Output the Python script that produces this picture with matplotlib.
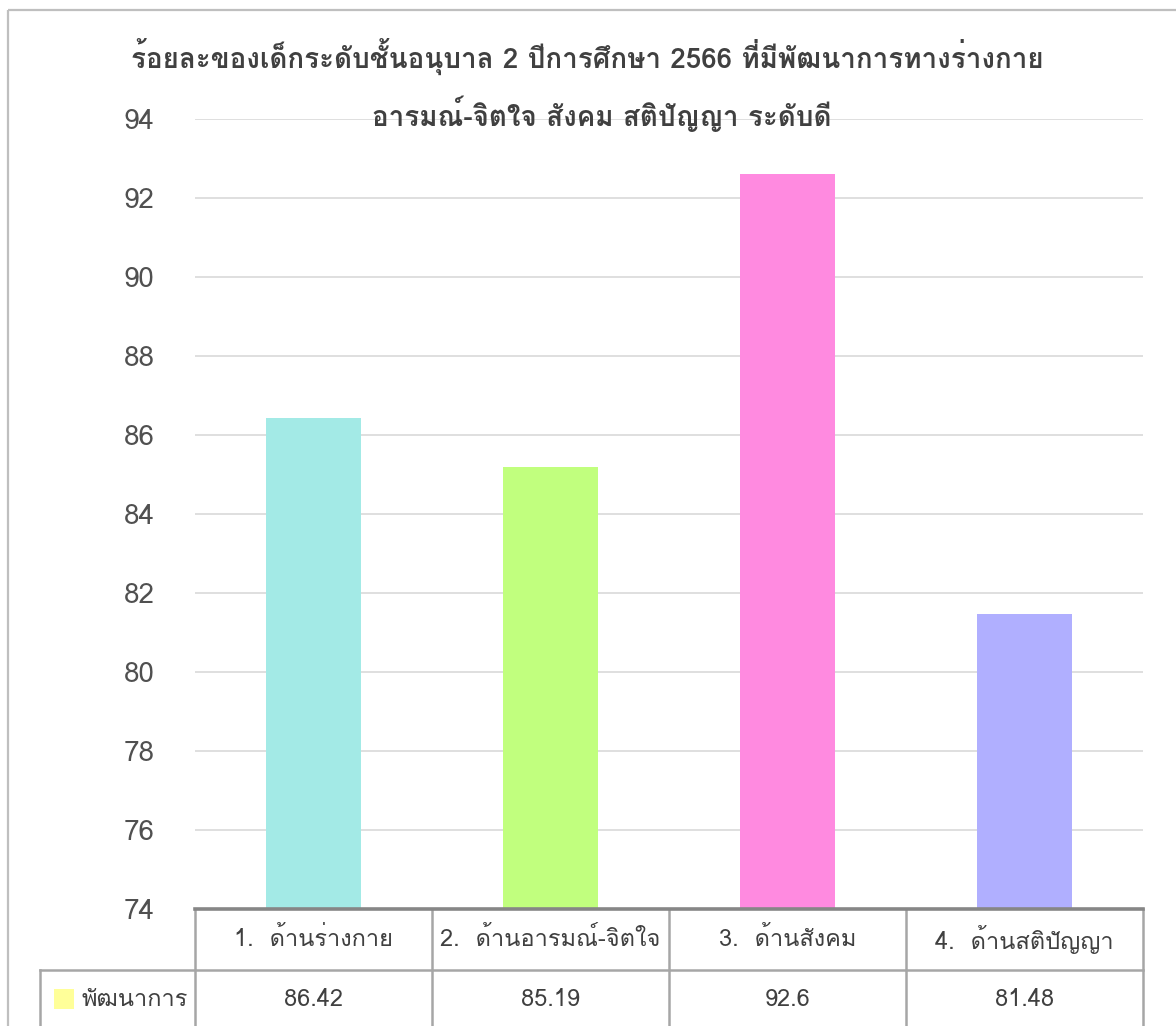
import matplotlib
matplotlib.use("Agg")
import matplotlib.pyplot as plt
from matplotlib import font_manager as fm
from matplotlib.ft2font import FT2Font
from matplotlib.lines import Line2D
from matplotlib.patches import Rectangle

# ---------------- data ----------------
title_lines = ["ร้อยละของเด็กระดับชั้นอนุบาล 2 ปีการศึกษา 2566 ที่มีพัฒนาการทางร่างกาย",
               "อารมณ์-จิตใจ สังคม สติปัญญา ระดับดี"]
categories = ["1.  ด้านร่างกาย", "2.  ด้านอารมณ์-จิตใจ", "3.  ด้านสังคม", "4.  ด้านสติปัญญา"]
values = [86.42, 85.19, 92.6, 81.48]
value_labels = ["86.42", "85.19", "92.6", "81.48"]
series_name = "พัฒนาการ"
bar_colors = ["#A3EAE6", "#C1FF7E", "#FF8AE0", "#B0AFFF"]
legend_color = "#FFFF99"
yticks = [74, 76, 78, 80, 82, 84, 86, 88, 90, 92, 94]

# ---------------- fonts ----------------
thai_family = None
for f in fm.fontManager.ttflist:
    try:
        ft = FT2Font(f.fname)
        if 0x0E01 in ft.get_charmap() and f.style == "normal":
            thai_family = f.name
            break
    except Exception:
        pass
families = ([thai_family] if thai_family else []) + ["DejaVu Sans"]
plt.rcParams["font.family"] = families

W, H = 1176, 1026
fig = plt.figure(figsize=(W / 100, H / 100), dpi=100)

left, right, top, bottom = 195, 1143, 119, 909
ax = fig.add_axes([left / W, 1 - bottom / H, (right - left) / W, (bottom - top) / H])
x = list(range(len(categories)))
ax.bar(x, [v - yticks[0] for v in values], bottom=yticks[0], width=0.4, color=bar_colors, zorder=3)
ax.set_xlim(-0.5, len(categories) - 0.5)
ax.set_ylim(yticks[0], yticks[-1])
ax.set_yticks(yticks)
ax.set_yticklabels([str(t) for t in yticks], fontsize=20, color="#505050")
ax.tick_params(axis="y", length=0, pad=29)
ax.set_xticks([])
ax.grid(axis="y", color="#d9d9d9", linewidth=1.2, zorder=0)
for s in ax.spines.values():
    s.set_visible(False)
ax.set_facecolor("none")

# overlay in pixel coordinates for table/frame
ov = fig.add_axes([0, 0, 1, 1], zorder=-1)
ov.set_xlim(0, W)
ov.set_ylim(H, 0)
ov.axis("off")
ov.add_patch(Rectangle((8, 10), W + 20, H + 20, fill=False, edgecolor="#bfbfbf", linewidth=1.6))

ov2 = fig.add_axes([0, 0, 1, 1], zorder=5)
ov2.set_xlim(0, W)
ov2.set_ylim(H, 0)
ov2.axis("off")
ov2.patch.set_alpha(0)

grid_c = "#a6a6a6"
col_w = (right - left) / len(categories)
row1_bot = 970
for i in range(len(categories) + 1):
    xx = left + i * col_w
    ov2.add_line(Line2D([xx, xx], [bottom, H + 5], color=grid_c, linewidth=1.8))
ov2.add_line(Line2D([40, 40], [row1_bot, H + 5], color=grid_c, linewidth=1.8))
ov2.add_line(Line2D([40, right], [row1_bot, row1_bot], color=grid_c, linewidth=1.8))
ov2.add_line(Line2D([left, right], [bottom, bottom], color="#868686", linewidth=2.6))

for i, (c, v) in enumerate(zip(categories, value_labels)):
    cx = left + (i + 0.5) * col_w
    ov2.text(cx, (bottom + row1_bot) / 2, c, ha="center", va="center", fontsize=17, color="#404040")
    ov2.text(cx, (row1_bot + H) / 2 + 2, v, ha="center", va="center", fontsize=17, color="#404040")

ov2.add_patch(Rectangle((54, 989), 20, 20, facecolor=legend_color, edgecolor="none"))
ov2.text(82, (row1_bot + H) / 2 + 2, series_name, ha="left", va="center", fontsize=17, color="#404040")

ov2.text(587, 57, title_lines[0], ha="center", va="center", fontsize=20, fontweight="bold", color="#404040")
ov2.text(602, 114, title_lines[1], ha="center", va="center", fontsize=20, fontweight="bold", color="#404040")

fig.savefig("out.png", dpi=100, facecolor="white")
